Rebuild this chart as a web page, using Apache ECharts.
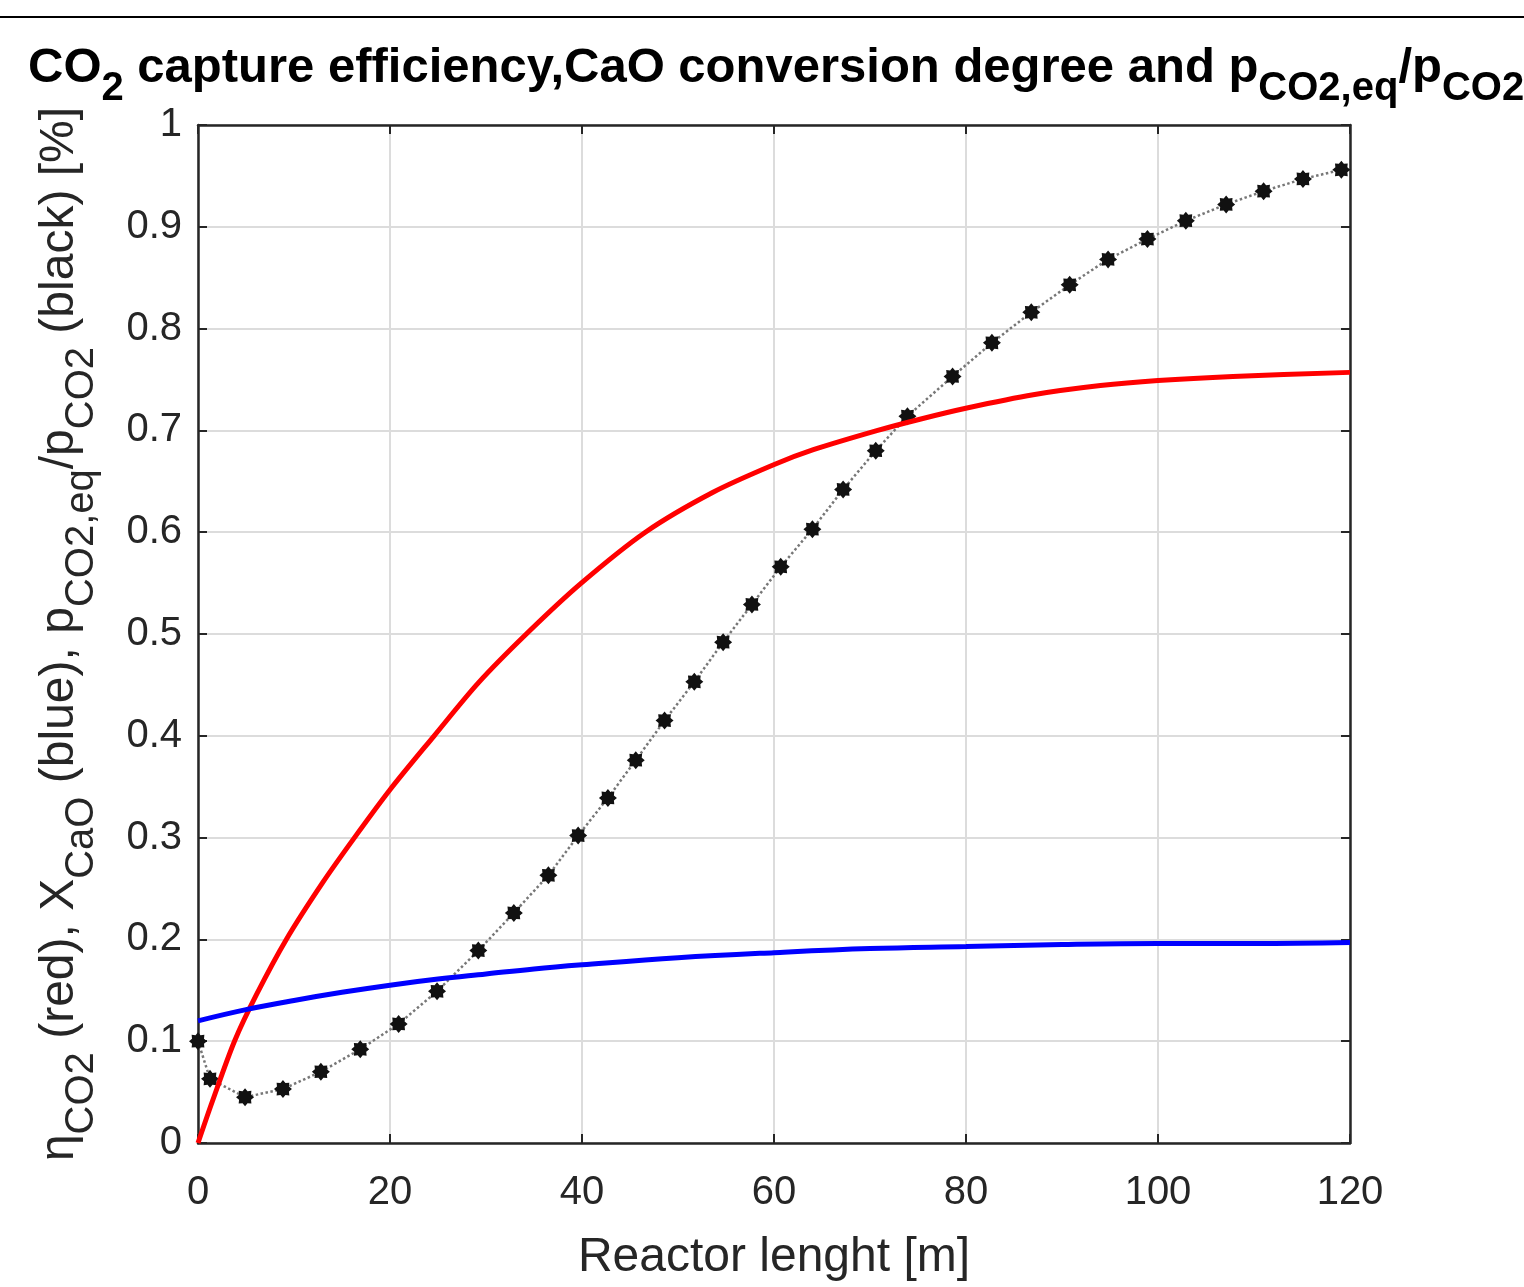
<!DOCTYPE html>
<html><head><meta charset="utf-8">
<script src="https://cdn.jsdelivr.net/npm/echarts@6/dist/echarts.min.js"></script>
<style>html,body{margin:0;padding:0;background:#fff}#c{width:1524px;height:1287px}</style>
</head><body><div id="c"></div>
<script>
// ---- data ----
const xTickValues = [0, 20, 40, 60, 80, 100, 120];
const yTickLabels = ['0', '0.1', '0.2', '0.3', '0.4', '0.5', '0.6', '0.7', '0.8', '0.9', '1'];

// CO2 capture efficiency (red)
const redX = [0, 1.5, 3.8, 6.1, 9.2, 13.0, 16.3, 20, 24.6, 29.2, 34.2, 39.8, 46.6, 53.6, 59.9, 64.1, 70.8, 75.2, 80.1, 87, 94, 100, 107.8, 120];
const redY = [0, 0.041, 0.100, 0.146, 0.200, 0.256, 0.300, 0.347, 0.400, 0.452, 0.500, 0.549, 0.600, 0.639, 0.666, 0.681, 0.700, 0.711, 0.722, 0.735, 0.744, 0.749, 0.753, 0.757];

// CaO conversion degree (blue)
const blueX = [0, 5, 10, 15, 20, 25, 30, 35, 40, 50, 60, 70, 80, 90, 100, 110, 120];
const blueY = [0.120, 0.131, 0.140, 0.148, 0.155, 0.161, 0.166, 0.171, 0.175, 0.182, 0.187, 0.191, 0.193, 0.195, 0.196, 0.196, 0.197];

// pCO2,eq / pCO2 (black, markers)
const blackX = [0, 1.25, 4.9, 8.85, 12.8, 16.9, 20.9, 24.9, 29.2, 32.9, 36.5, 39.6, 42.7, 45.6, 48.6, 51.7, 54.7, 57.7, 60.7, 64.0, 67.2, 70.6, 73.9, 78.6, 82.7, 86.8, 90.8, 94.8, 98.9, 102.9, 107.1, 111.0, 115.1, 119.1];
const blackY = [0.100, 0.063, 0.045, 0.053, 0.070, 0.092, 0.117, 0.149, 0.189, 0.226, 0.263, 0.302, 0.339, 0.376, 0.415, 0.453, 0.492, 0.529, 0.566, 0.603, 0.642, 0.680, 0.714, 0.753, 0.786, 0.816, 0.843, 0.868, 0.888, 0.906, 0.922, 0.935, 0.947, 0.956];

// ---- styling helpers ----
const FONT = '"Liberation Sans", Arial, Helvetica, sans-serif';
const TXT = '#262626';
function zip(xs, ys) { return xs.map((x, i) => [x, ys[i]]); }
function starPath() {
  const pts = [];
  for (let k = 0; k < 16; k++) {
    const a = k * Math.PI / 8;
    const r = (k % 2 === 0) ? 10 : 7.2;
    pts.push((10 + r * Math.cos(a)).toFixed(2) + ' ' + (10 + r * Math.sin(a)).toFixed(2));
  }
  return 'path://M' + pts.join(' L') + ' Z';
}

const chart = echarts.init(document.getElementById('c'), null, { renderer: 'canvas' });

const axisCommon = {
  min: 0,
  axisLine: { show: true, onZero: false, lineStyle: { color: TXT, width: 2.5 } },
  axisTick: { show: true, inside: true, length: 9, lineStyle: { color: TXT, width: 2 } },
};

const option = {
  backgroundColor: '#ffffff',
  animation: false,
  textStyle: { fontFamily: FONT },
  title: {
    left: 23, top: 35,
    text: '{m|CO}{s|2}{m| capture efficiency,CaO conversion degree and p}{s|CO2,eq}{m|/p}{s|CO2}',
    textStyle: {
      rich: {
        m: { fontFamily: FONT, fontSize: 49, fontWeight: 'bold', color: '#000', lineHeight: 56 },
        s: { fontFamily: FONT, fontSize: 40, fontWeight: 'bold', color: '#000', lineHeight: 56, padding: [42, 0, 0, 0] }
      }
    }
  },
  graphic: [{
    type: 'line', shape: { x1: 0, y1: 17, x2: 1524, y2: 17 },
    style: { stroke: '#000', lineWidth: 2 }, silent: true
  }],
  grid: { left: 198, right: 174, top: 125, bottom: 141, containLabel: false },
  xAxis: [{
    ...axisCommon,
    type: 'value', max: 120, interval: 20, position: 'bottom',
    name: 'Reactor lenght [m]', nameLocation: 'middle', nameGap: 91,
    nameTextStyle: { fontFamily: FONT, fontSize: 48, color: TXT },
    axisLabel: { fontFamily: FONT, fontSize: 40, color: TXT, margin: 30,
      formatter: v => (xTickValues.indexOf(v) >= 0 ? String(v) : '') },
    splitLine: { show: true, lineStyle: { color: '#dcdcdc', width: 2 } }
  }, {
    ...axisCommon,
    type: 'value', max: 120, interval: 20, position: 'top',
    axisLabel: { show: false }, splitLine: { show: false }
  }],
  yAxis: [{
    ...axisCommon,
    type: 'value', max: 1, interval: 0.1, position: 'left',
    name: '{m|η}{s|CO2}{m| (red), X}{s|CaO}{m| (blue), p}{s|CO2,eq}{m|/p}{s|CO2}{m| (black) [%]}',
    nameLocation: 'middle', nameGap: 110, nameRotate: 90,
    nameTextStyle: {
      rich: {
        m: { fontFamily: FONT, fontSize: 48, color: TXT, lineHeight: 56 },
        s: { fontFamily: FONT, fontSize: 40, color: TXT, lineHeight: 56, padding: [44, 0, 0, 0] }
      }
    },
    axisLabel: { fontFamily: FONT, fontSize: 40, color: TXT, margin: 16,
      formatter: v => { const i = Math.round(v * 10); return yTickLabels[i] !== undefined ? yTickLabels[i] : ''; } },
    splitLine: { show: true, lineStyle: { color: '#dcdcdc', width: 2 } }
  }, {
    ...axisCommon,
    type: 'value', max: 1, interval: 0.1, position: 'right',
    axisLabel: { show: false }, splitLine: { show: false }
  }],
  series: [
    {
      name: 'black', type: 'line', data: zip(blackX, blackY),
      symbol: starPath(), symbolSize: 18, showSymbol: true,
      itemStyle: { color: '#111' },
      lineStyle: { color: '#777', width: 2.5, type: 'dotted' },
      z: 3
    },
    {
      name: 'red', type: 'line', data: zip(redX, redY), smooth: 0.3,
      showSymbol: false, symbol: 'none',
      lineStyle: { color: '#ff0000', width: 5 }, z: 4
    },
    {
      name: 'blue', type: 'line', data: zip(blueX, blueY), smooth: 0.4,
      showSymbol: false, symbol: 'none',
      lineStyle: { color: '#0000ff', width: 5 }, z: 4
    }
  ]
};
chart.setOption(option);
</script>
</body></html>
